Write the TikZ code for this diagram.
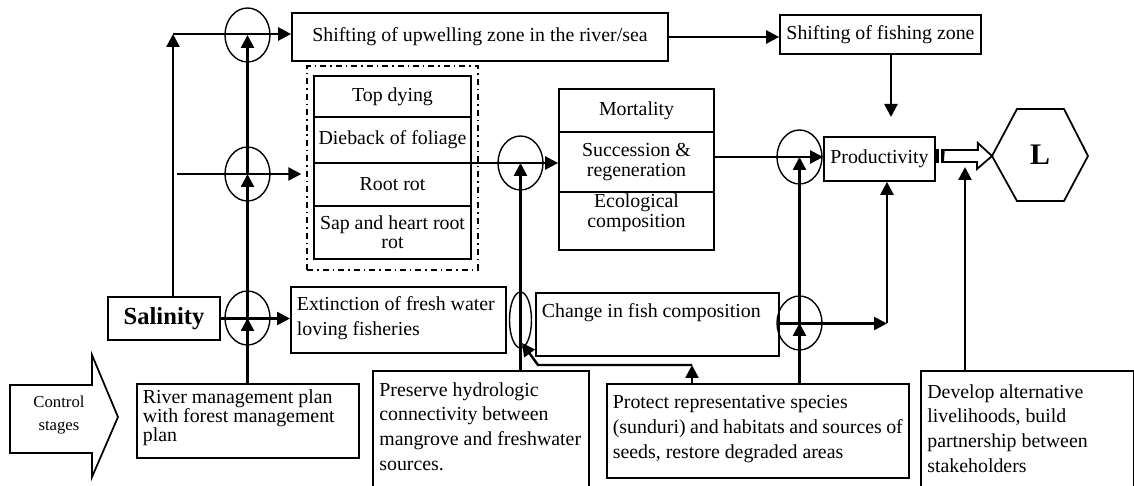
\documentclass[tikz,border=0pt]{standalone}
\usepackage{fontspec}
\setmainfont{Liberation Serif}
\usetikzlibrary{arrows.meta,calc,shapes.geometric}
\newcommand{\topbox}[4]{\parbox[t][#2][t]{#1}{\raggedright\rule{0pt}{#3}#4}}
\tikzset{
  every picture/.style={font=\fontsize{11.3}{14}\selectfont},
  line box/.style={draw, line width=1pt},
  text box/.style={line box, anchor=north west, inner xsep=1.2mm, inner ysep=0pt},
  open box/.style={anchor=north west, inner xsep=1.2mm, inner ysep=0pt},
  cell/.style={line box, inner sep=1pt, align=center, font=\fontsize{11.3}{11}\selectfont},
  sympcell/.style={cell, minimum width=31.4mm},
  effcell/.style={cell, minimum width=31mm},
  junction/.style={draw, ellipse, line width=0.8pt, inner sep=0pt,
    minimum width=9mm, minimum height=10.8mm},
  frame box/.style={draw, line width=0.8pt,
    dash pattern=on 1.2mm off 0.8mm on 0.3mm off 0.8mm},
  flow/.style={-{Triangle[length=2.6mm,width=2.6mm]}, line width=1.4pt},
  hollow/.style={draw, line width=1pt, fill=white}
}

\begin{document}
\begin{tikzpicture}[x=0.02cm,y=-0.02cm]
  \useasboundingbox (0,0) rectangle (1134,486);

  % top row
  \node[line box, minimum width=75.2mm, minimum height=9.6mm] (upwell) at (480,37) {Shifting of upwelling zone in the river/sea};
  \node[line box, minimum width=40.2mm, minimum height=7.8mm] (fishzone) at (880.5,34.5) {Shifting of fishing zone};

  % symptoms of the forest
  \node[frame box, minimum width=34.2mm, minimum height=40.8mm] (frame) at (392.5,168) {};
  \node[sympcell, minimum height=8.2mm] (topdie) at (392.5,96.5) {Top dying};
  \node[sympcell, minimum height=9.2mm] (dieback) at (392.5,140) {Dieback of foliage};
  \node[sympcell, minimum height=8.6mm] (rootrot) at (392.5,184.5) {Root rot};
  \node[sympcell, minimum height=10.6mm] (saprot) at (392.5,232.5) {Sap and heart root\\rot};

  % effects
  \node[effcell, minimum height=8.6mm] (mort) at (636.5,110.5) {Mortality};
  \node[effcell, minimum height=12mm] (succ) at (636.5,162) {Succession \&\\regeneration};
  \node[effcell, minimum height=11.6mm] (ecol) at (636.5,221) {\parbox[t][10.8mm][t]{29mm}{\centering\rule{0pt}{7.5pt}Ecological\\composition}};

  % outcome
  \node[line box, minimum width=22.2mm, minimum height=8.8mm] (prod) at (879.5,159) {Productivity};
  \coordinate (hexW) at (992,156);
  \draw[line box] (hexW) -- (1017,109) -- (1064,109) -- (1088,156) -- (1064,201) -- (1017,201) -- cycle;
  \node[font=\bfseries\fontsize{17}{17}\selectfont] (L) at (1040,155) {L};

  \node[line box, minimum width=22.4mm, minimum height=8.6mm, font=\bfseries\fontsize{14}{16}\selectfont] (sal) at (164,318.5) {Salinity};
  \node[text box] (extinct) at (290,286) {\topbox{40.6mm}{13.2mm}{13.6pt}{Extinction of fresh water\\loving fisheries}};
  \node[text box] (change) at (535,292) {\topbox{46.2mm}{12.6mm}{14.2pt}{Change in fish composition}};

  % control stages
  \draw[line box] (10,385) -- (92,385) -- (92,355) -- (118,417) -- (92,477) -- (92,453) -- (10,453) -- cycle;
  \node[font=\fontsize{9.5}{13}\selectfont, align=center] (ctrl) at (59,415) {Control\\stages};
  \node[text box, font=\fontsize{11.3}{10.8}\selectfont] (river) at (136,383) {\topbox{42mm}{14.8mm}{11.3pt}{River management plan\\with forest management\\plan}};
  \node[open box] (preserve) at (373,371) {\topbox{40.6mm}{23mm}{14.2pt}{Preserve hydrologic\\connectivity between\\mangrove and freshwater\\sources.}};
  \draw[line box] (preserve.south west) -- (preserve.north west) -- (preserve.north east) -- (preserve.south east);
  \node[text box] (protect) at (606,383) {\topbox{58mm}{18.8mm}{14.2pt}{Protect representative species\\(sunduri) and habitats and sources of\\seeds, restore degraded areas}};
  \node[open box] (develop) at (921,371) {\topbox{40mm}{23mm}{15.3pt}{Develop alternative\\livelihoods, build\\partnership between\\stakeholders}};
  \draw[line box] (develop.south west) -- (develop.north west) -- (develop.north east) -- (develop.south east);

  % junctions
  \node[junction] (jUp) at (247.5,35) {};
  \node[junction] (jMid) at (247.5,174) {};
  \node[junction] (jLow) at (247.5,318) {};
  \node[junction] (jRoot) at (520.5,163) {};
  \node[junction, minimum width=4.4mm, minimum height=11.2mm] (jFish) at (520.5,320) {};
  \node[junction] (jProd) at (799.5,157) {};
  \node[junction] (jChg) at (799.5,323) {};

  % connectors
  \coordinate (salTop) at (173,34);
  \draw[flow] (sal.north -| salTop) -- (salTop);
  \draw[flow] (salTop) -- (salTop -| upwell.west);
  \draw[flow] (river.north -| jLow) -- (jLow.center);
  \draw[flow] (jLow.center) -- (jMid.center);
  \draw[flow] (jMid.center) -- (jUp.center);
  \coordinate (sympIn) at (177,174);
  \draw[flow] (sympIn) -- ([xshift=-1mm]sympIn -| frame.west);
  \draw[flow] (sal.east) -- (sal.east -| extinct.west);
  \draw[flow] (upwell.east) -- (upwell.east -| fishzone.west);
  \coordinate (fzEnd) at (891,117);
  \draw[flow] (fishzone.south -| fzEnd) -- (fzEnd);
  \coordinate (sympOut) at (447,163);
  \draw[flow] (sympOut) -- (sympOut -| succ.west);
  \draw[flow] (preserve.north -| jRoot) -- (jRoot.center);
  \coordinate (protKnee) at (692,365);
  \coordinate (protBend) at (538,365);
  \draw[flow] (protect.north -| protKnee) -- (protKnee);
  \draw[flow] (protKnee) -- (protBend) -- (522,343);
  \draw[flow] (succ.east |- jProd) -- (jProd.center -| prod.west);
  \draw[flow] (protect.north -| jChg) -- (jChg.center);
  \draw[flow] (jChg.center) -- (jProd.center);
  \coordinate (chgKnee) at (887,323.5);
  \draw[flow] (change.east |- chgKnee) -- (chgKnee);
  \draw[flow] (chgKnee) -- (chgKnee |- prod.south);

  % hollow arrow to L
  \fill ($(prod.east)+(0,-10)$) rectangle ++(3,14);
  \fill ($(prod.east)+(5,-10)$) rectangle ++(3,14);
  \draw[hollow] ($(prod.east)+(8,-9)$) -- ++(34,0) -- ++(0,-7) -- (hexW) -- ++(-15,13) -- ++(0,-7) -- ++(-34,0) -- cycle;
  \coordinate (devUp) at (965,167);
  \draw[flow] (develop.north -| devUp) -- (devUp);
\end{tikzpicture}
\end{document}
